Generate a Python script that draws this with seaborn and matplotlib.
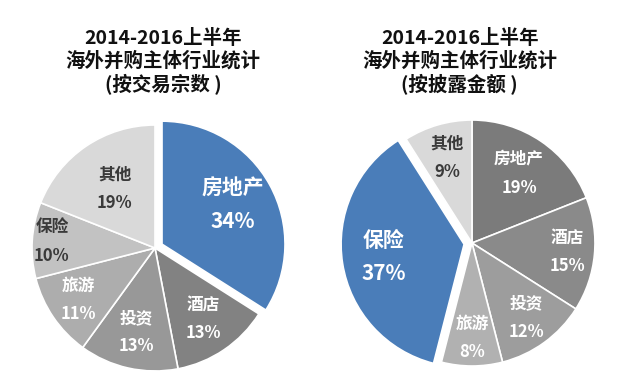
import numpy as np
import seaborn as sns
import matplotlib.pyplot as plt

sns.set_theme(style="white")
plt.rcParams['font.family'] = ['Noto Sans CJK SC', 'DejaVu Sans']

# data, clockwise from 12 o'clock
left_names = ["房地产", "酒店", "投资", "旅游", "保险", "其他"]
left_share = [34, 13, 13, 11, 10, 19]
right_names = ["房地产", "酒店", "投资", "旅游", "保险", "其他"]
right_share = [19, 15, 12, 8, 37, 9]

left_title = "2014-2016上半年\n海外并购主体行业统计\n(按交易宗数 )"
right_title = "2014-2016上半年\n海外并购主体行业统计\n(按披露金额 )"

blue = "#4a7db9"
left_colors = [blue, "#828282", "#989898", "#adadad", "#c2c2c2", "#d9d9d9"]
right_colors = ["#7b7b7b", "#8a8a8a", "#9d9d9d", "#b1b1b1", blue, "#d9d9d9"]
left_txt = ["white", "white", "white", "white", "#3a3a3a", "#3a3a3a"]
right_txt = ["white", "white", "white", "white", "white", "#3a3a3a"]
left_dist = [0.66, 0.70, 0.70, 0.75, 0.84, 0.58]
right_dist = [0.68, 0.78, 0.75, 0.77, 0.66, 0.72]


def draw_pie(ax, names, share, colors, txt_colors, dist, hi):
    explode = [0.065 if i == hi else 0 for i in range(len(share))]
    wedges, _ = ax.pie(
        share,
        colors=colors,
        startangle=90,
        counterclock=False,
        explode=explode,
        wedgeprops=dict(edgecolor="white", linewidth=1.2),
    )
    for i, w in enumerate(wedges):
        ang = np.deg2rad((w.theta1 + w.theta2) / 2)
        cx, cy = w.center
        x = cx + dist[i] * np.cos(ang)
        y = cy + dist[i] * np.sin(ang)
        size = 15 if i == hi else 12
        ax.text(x, y, f"{names[i]}\n{share[i]}%", ha="center", va="center",
                color=txt_colors[i], fontsize=size, fontweight="bold",
                linespacing=1.75)
    ax.set_xlim(-1.1, 1.1)
    ax.set_ylim(-1.1, 1.1)
    ax.set_aspect("equal")
    ax.axis("off")


fig = plt.figure(figsize=(6.23, 3.9), dpi=100)
ax1 = fig.add_axes([0.0316, 0.0172, 0.4344, 0.6938])
ax2 = fig.add_axes([0.5404, 0.030, 0.4344, 0.6938])

draw_pie(ax1, left_names, left_share, left_colors, left_txt, left_dist, 0)
draw_pie(ax2, right_names, right_share, right_colors, right_txt, right_dist, 4)

fig.text(0.262, 0.925, left_title, ha="center", va="top", fontsize=14,
         fontweight="bold", color="#111111", linespacing=1.18)
fig.text(0.738, 0.925, right_title, ha="center", va="top", fontsize=14,
         fontweight="bold", color="#111111", linespacing=1.18)

plt.savefig("out.png", dpi=100)
plt.close()
